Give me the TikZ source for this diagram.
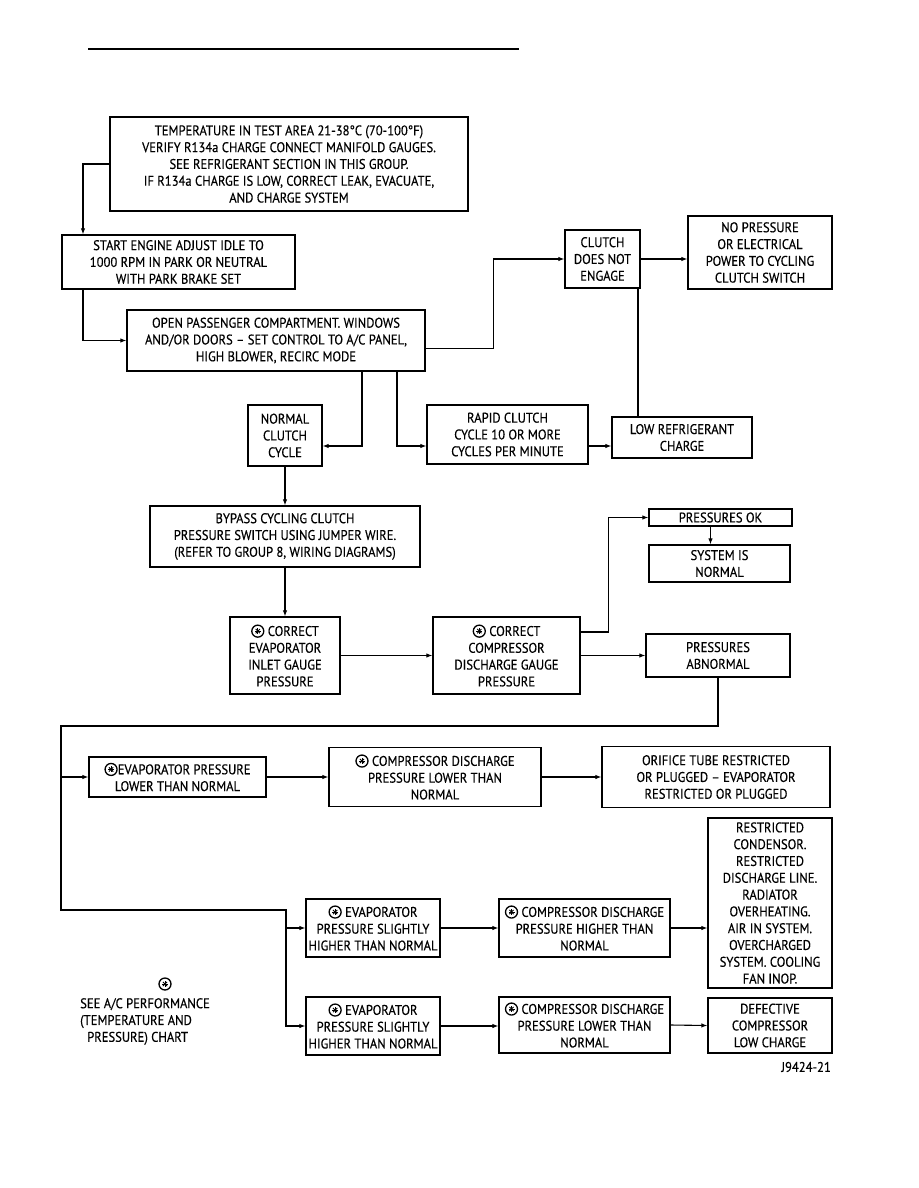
\documentclass[tikz,border=0pt]{standalone}
\usepackage{fontspec}
\setmainfont{PT Sans}[FakeBold=0.35,FakeStretch=0.9]
\usetikzlibrary{arrows.meta}
\newcommand{\cast}{\tikz[x=1pt,y=1pt,baseline=-4.8pt]{\draw[line width=1.3pt] (0,0) circle (6pt);
 \foreach \a in {0,45,90,135}{\draw[line width=0.9pt] (\a:3pt) -- (\a+180:3pt);}}}
\begin{document}
\begin{tikzpicture}[x=1pt,y=-1pt,
 box/.style={draw, line width=1.3pt, align=center, inner sep=0pt, font=\fontsize{14}{16.8}\selectfont},
 lbl/.style={inner sep=0pt, font=\fontsize{14}{16.8}\selectfont},
 arr/.style={line width=1.1pt, -{Latex[length=6pt,width=4.5pt]}},
 ln/.style={line width=1.1pt}]
\path[use as bounding box] (0,0) rectangle (918,1188);
% top rule
\coordinate (r1) at (88,49);
\coordinate (r2) at (519,49);
\draw[line width=1.5pt] (r1) -- (r2);

\node[box, minimum width=358pt, minimum height=94pt] (B1) at (289,164)
 {TEMPERATURE IN TEST AREA 21-38°C (70-100°F)\\VERIFY R134a CHARGE CONNECT MANIFOLD GAUGES.\\SEE REFRIGERANT SECTION IN THIS GROUP.\\IF R134a CHARGE IS LOW, CORRECT LEAK, EVACUATE,\\AND CHARGE SYSTEM};
\node[box, minimum width=233pt, minimum height=54pt] (B2) at (178.5,262)
 {START ENGINE ADJUST IDLE TO\\1000 RPM IN PARK OR NEUTRAL\\WITH PARK BRAKE SET};
\node[box, minimum width=298pt, minimum height=61pt] (B3) at (276,340.5)
 {OPEN PASSENGER COMPARTMENT. WINDOWS\\AND/OR DOORS – SET CONTROL TO A/C PANEL,\\HIGH BLOWER, RECIRC MODE};
\node[box, minimum width=75pt, minimum height=58pt] (CL) at (602.5,259)
 {CLUTCH\\DOES NOT\\ENGAGE};
\node[box, minimum width=144pt, minimum height=73pt] (NP) at (760,252.5)
 {NO PRESSURE\\OR ELECTRICAL\\POWER TO CYCLING\\CLUTCH SWITCH};
\node[box, minimum width=74pt, minimum height=61pt] (NC) at (285,435.5)
 {NORMAL\\CLUTCH\\CYCLE};
\node[box, minimum width=161pt, minimum height=59pt] (RC) at (507.5,434.5)
 {RAPID CLUTCH\\CYCLE 10 OR MORE\\CYCLES PER MINUTE};
\node[box, minimum width=140pt, minimum height=41pt] (LR) at (682,437.5)
 {LOW REFRIGERANT\\CHARGE};
\node[box, minimum width=270pt, minimum height=61pt] (BP) at (285,536.5)
 {BYPASS CYCLING CLUTCH\\PRESSURE SWITCH USING JUMPER WIRE.\\(REFER TO GROUP 8, WIRING DIAGRAMS)};
\node[box, minimum width=110pt, minimum height=77pt] (CE) at (285,655.5)
 {\cast\ CORRECT\\EVAPORATOR\\INLET GAUGE\\PRESSURE};
\node[box, minimum width=147pt, minimum height=77pt] (CC) at (506.5,655.5)
 {\cast\ CORRECT\\COMPRESSOR\\DISCHARGE GAUGE\\PRESSURE};
\node[box, minimum width=143pt, minimum height=17pt] (OK) at (720.5,517.5)
 {PRESSURES OK};
\node[box, minimum width=141pt, minimum height=37pt] (SN) at (719.5,563.5)
 {SYSTEM IS\\NORMAL};
\node[box, minimum width=144pt, minimum height=43pt] (PA) at (718,655.5)
 {PRESSURES\\ABNORMAL};
\node[box, minimum width=177pt, minimum height=40pt] (EL) at (177.5,777)
 {\cast EVAPORATOR PRESSURE\\LOWER THAN NORMAL};
\node[box, minimum width=212pt, minimum height=59pt] (CDL) at (435,777)
 {\cast\ COMPRESSOR DISCHARGE\\PRESSURE LOWER THAN\\NORMAL};
\node[box, minimum width=228pt, minimum height=61pt] (OR) at (716,777)
 {ORIFICE TUBE RESTRICTED\\OR PLUGGED – EVAPORATOR\\RESTRICTED OR PLUGGED};
\node[box, minimum width=124pt, minimum height=170pt] (RS) at (770,903)
 {RESTRICTED\\CONDENSOR.\\RESTRICTED\\DISCHARGE LINE.\\RADIATOR\\OVERHEATING.\\AIR IN SYSTEM.\\OVERCHARGED\\SYSTEM. COOLING\\FAN INOP.};
\node[box, minimum width=134pt, minimum height=58pt] (E1) at (373,928)
 {\cast\ EVAPORATOR\\PRESSURE SLIGHTLY\\HIGHER THAN NORMAL};
\node[box, minimum width=171pt, minimum height=58pt] (C1) at (584.5,928)
 {\cast\ COMPRESSOR DISCHARGE\\PRESSURE HIGHER THAN\\NORMAL};
\node[box, minimum width=134pt, minimum height=58pt] (E2) at (373,1026)
 {\cast\ EVAPORATOR\\PRESSURE SLIGHTLY\\HIGHER THAN NORMAL};
\node[box, minimum width=171pt, minimum height=56pt] (C2) at (584.5,1025)
 {\cast\ COMPRESSOR DISCHARGE\\PRESSURE LOWER THAN\\NORMAL};
\node[box, minimum width=124pt, minimum height=55pt] (DF) at (770,1025.5)
 {DEFECTIVE\\COMPRESSOR\\LOW CHARGE};

% legend
\node[lbl] (SY) at (165,984) {\cast};
\node[lbl, align=left, anchor=north west] (LG) at (80,998)
 {SEE A/C PERFORMANCE\\(TEMPERATURE AND\\\hspace{7pt}PRESSURE) CHART};
\node[lbl, anchor=east] (JL) at (831,1067) {J9424-21};

% helper coordinates
\coordinate (xa) at (83,0);
\coordinate (xb) at (638,0);
\coordinate (xc) at (362,0);
\coordinate (xd) at (397,0);
\coordinate (ya) at (0,446);
\coordinate (p2) at (61,726);
\coordinate (p3) at (61,910);
\coordinate (p4) at (286,910);

% connectors
\draw[arr] (B1.west) -| (xa |- B2.north);
\draw[arr] (xa |- B2.south) |- (B3.west);
\draw[arr] ([yshift=-8pt]B3.east) -- ++(68,0) |- (CL.west);
\draw[arr] (CL.east) -- (CL.east -| NP.west);
\draw[ln] (xb |- CL.south) -- (xb |- LR.north);
\draw[arr] (xc |- B3.south) |- (NC.east |- ya);
\draw[arr] (xd |- B3.south) |- (RC.west |- ya);
\draw[arr] (RC.east |- ya) -- (LR.west |- ya);
\draw[arr] (NC.south) -- (BP.north);
\draw[arr] (BP.south) -- (CE.north);
\draw[arr] (CE.east) -- (CC.west);
\draw[arr] ([yshift=23.5pt]CC.east) -- ++(28,0) |- (OK.west);
\draw[arr] ([xshift=-10pt]OK.south) -- ([xshift=-9pt]SN.north);
\draw[arr] (CC.east) -- (PA.west);
\draw[arr] (PA.south) |- (p2) -- (p3) -- (p4) |- (E2.west);
\draw[arr] (p2 |- EL.west) -- (EL.west);
\draw[arr] (p4 |- E1.west) -- (E1.west);
\draw[arr] (EL.east) -- (CDL.west);
\draw[arr] (CDL.east) -- (OR.west);
\draw[arr] (E1.east) -- (C1.west);
\draw[arr] (C1.east) -- (RS.west |- C1.east);
\draw[arr] (E2.east) -- (E2.east -| C2.west);
\draw[arr] (C2.east) -- (DF.west);
\end{tikzpicture}
\end{document}
